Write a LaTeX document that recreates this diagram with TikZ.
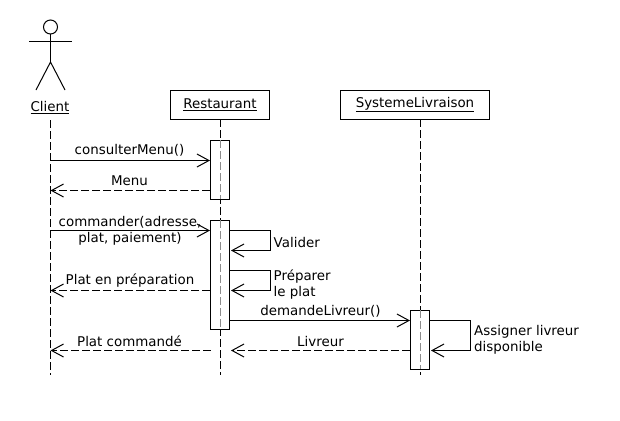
\documentclass[tikz,border=0pt]{standalone}
\usepackage{fontspec}
\setmainfont{DejaVu Sans}
\usetikzlibrary{arrows.meta}
\tikzset{
  lbl/.style={font=\fontsize{13.4}{16}\selectfont, inner sep=0pt, text=black, align=left},
  lblc/.style={lbl, align=center},
  objbox/.style={draw, line width=1pt, fill=white, minimum height=28.5pt, inner sep=0pt, font=\fontsize{13.4}{16}\selectfont},
  actbox/.style={draw, line width=1pt, minimum width=19pt, inner sep=0pt},
  life/.style={line width=1pt, dash pattern=on 8pt off 3pt},
  lifein/.style={life, black!45},
  msg/.style={line width=1pt, -{Straight Barb[length=12pt,width=13pt,line width=1pt]}},
  ret/.style={msg, dash pattern=on 8pt off 3pt},
  actorline/.style={line width=1pt}
}
\begin{document}
\begin{tikzpicture}[x=1pt,y=-1pt]
\useasboundingbox (0,0) rectangle (620,420);
\fill[white] (0,0) rectangle (620,420);
% actor
\node[circle, draw, line width=1pt, minimum size=14pt, inner sep=0pt] (head) at (50.5,27) {};
\coordinate (armL) at (29,41.5);
\coordinate (armR) at (72,41.5);
\coordinate (hip) at (50.5,62);
\coordinate (legL) at (36,90);
\coordinate (legR) at (65,90);
\draw[actorline] (head.south) -- (hip);
\draw[actorline] (armL) -- (armR);
\draw[actorline] (legL) -- (hip) -- (legR);
\node[lbl] (client) at (50,107.5) {\underline{Client}};
% objects
\node[objbox, minimum width=99pt] (rest) at (220,104.8) {\underline{Restaurant}};
\node[objbox, minimum width=149pt] (sys) at (415,104.8) {\underline{SystemeLivraison}};
% lifelines
\coordinate (cEnd) at (50.5,375);
\coordinate (cStart) at (50.5,120);
\coordinate (rEnd) at (220.5,375);
\coordinate (sEnd) at (420.5,375);
\coordinate (rStart) at (220.5,119);
\coordinate (sStart) at (420.5,119);
\draw[life] (cStart) -- (cEnd);
\draw[life] (rStart) -- (rEnd);
\draw[life] (sStart) -- (sEnd);
% activations
\node[actbox, fill=white, minimum height=59.5pt] (a1) at (220,169.8) {};
\node[actbox, fill=white, minimum height=109pt] (a2) at (220,274.5) {};
\node[actbox, fill=white, minimum height=59pt] (a3) at (420,339.7) {};
\draw[lifein] (220.5,140) -- (220.5,199);
\draw[lifein] (220.5,220) -- (220.5,329);
\draw[lifein] (420.5,310) -- (420.5,369);
% messages
\coordinate (c1) at (50.5,160.5);
\coordinate (c2) at (50.5,190.5);
\coordinate (c3) at (50.5,230.5);
\coordinate (c4) at (50.5,290.5);
\coordinate (c5) at (50.5,350.5);
\coordinate (r5) at (210.5,350.5);
\coordinate (r6) at (231,350.5);
\draw[msg] (c1) -- (a1.west |- c1);
\draw[ret] (a1.west |- c2) -- (c2);
\draw[msg] (c3) -- (a2.west |- c3);
\draw[msg] (a2.east |- 0,230.5) -- (270.5,230.5) -- (270.5,250.5) -- (231,250.5);
\draw[msg] (a2.east |- 0,270.5) -- (270.5,270.5) -- (270.5,290.5) -- (231,290.5);
\draw[ret] (a2.west |- c4) -- (c4);
\draw[msg] (a2.east |- 0,320.5) -- (a3.west |- 0,320.5);
\draw[ret] (r5) -- (c5);
\draw[ret] (a3.west |- r6) -- (r6);
\draw[msg] (a3.east |- 0,320.5) -- (470.5,320.5) -- (470.5,350.5) -- (431,350.5);
% labels
\node[lbl] (l1) at (129.5,150.5) {consulterMenu()};
\node[lbl] (l2) at (129.5,181) {Menu};
\node[lblc] (l3) at (130,230.5) {commander(adresse,\\plat, paiement)};
\node[lbl, anchor=west] (l4) at (273.5,242.5) {Valider};
\node[lbl, anchor=west] (l5) at (273.5,284.5) {Préparer\\le plat};
\node[lbl] (l6) at (130,281) {Plat en préparation};
\node[lbl] (l7) at (320.5,311) {demandeLivreur()};
\node[lbl] (l8) at (129.5,341) {Plat commandé};
\node[lbl] (l9) at (320.5,341) {Livreur};
\node[lbl, anchor=west] (l10) at (474,339.5) {Assigner livreur\\disponible};
\end{tikzpicture}
\end{document}
